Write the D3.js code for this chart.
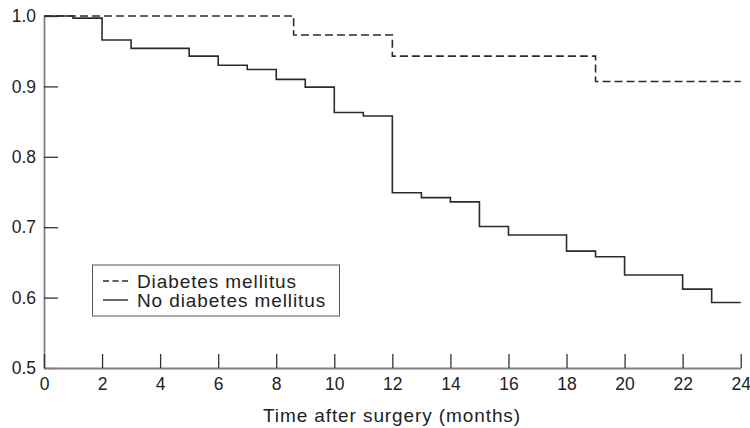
<!DOCTYPE html>
<html>
  <head>
    <title>Survival after surgery</title>
    <script src="https://cdn.jsdelivr.net/npm/d3@7/dist/d3.min.js"></script>
    <style>
      body { margin: 0; background: #fff; }
      text { font-family: "Liberation Sans", Arial, sans-serif; fill: #222; }
    </style>
  </head>
  <body>
    <svg width="750" height="428"></svg>
    <script>

      // step points (month where the step starts, survival after it)
      const noDmMonths = [0, 1, 2, 3, 5, 6, 7, 8, 9, 10, 11, 12, 13, 14, 15, 16, 18, 19, 20, 22, 23];
      const noDmSurvival = [1.0, 0.997, 0.966, 0.954, 0.943, 0.930, 0.924, 0.910, 0.899, 0.863, 0.858,
                            0.749, 0.742, 0.736, 0.701, 0.689, 0.666, 0.658, 0.632, 0.612, 0.593];

      const dmMonths = [0, 8.6, 12, 19];
      const dmSurvival = [1.0, 0.973, 0.943, 0.907];

      const followUpEnd = 24;
      const xTicks = d3.range(0, 25, 2);
      const yTicks = [0.5, 0.6, 0.7, 0.8, 0.9, 1.0];
      const seriesNames = ["Diabetes mellitus", "No diabetes mellitus"];

      const svg = d3.select("svg");

      const x = d3.scaleLinear().domain([0, 24]).range([44, 740.7]);
      const y = d3.scaleLinear().domain([0.5, 1.0]).range([368, 16]);

      const toSteps = (months, surv) => {
        const pts = months.map((m, i) => [m, surv[i]]);
        pts.push([followUpEnd, surv[surv.length - 1]]);
        return pts;
      };

      const line = d3.line()
        .x(d => x(d[0]))
        .y(d => y(d[1]))
        .curve(d3.curveStepAfter);

      // axes
      const yAxis = d3.axisLeft(y)
        .tickValues(yTicks)
        .tickFormat(d3.format(".1f"))
        .tickSizeInner(-14)
        .tickSizeOuter(0)
        .tickPadding(8);

      const xAxis = d3.axisBottom(x)
        .tickValues(xTicks)
        .tickSizeInner(-14)
        .tickSizeOuter(0)
        .tickPadding(10);

      const gy = svg.append("g").attr("transform", "translate(44,0)").call(yAxis);
      const gx = svg.append("g").attr("transform", "translate(0,368)").call(xAxis);

      [gx, gy].forEach(g => {
        g.select(".domain").attr("stroke", "#808080").attr("stroke-width", 1.8);
        g.selectAll(".tick line").attr("stroke", "#333").attr("stroke-width", 1.3);
        g.selectAll(".tick text")
          .attr("font-size", 17.5)
          .attr("font-family", "Liberation Sans, Arial, sans-serif")
          .attr("fill", "#222");
      });

      svg.append("text")
        .attr("x", 392)
        .attr("y", 421.5)
        .attr("text-anchor", "middle")
        .attr("font-size", 19)
        .attr("letter-spacing", 0.9)
        .text("Time after surgery (months)");

      // survival curves
      svg.append("path")
        .attr("d", line(toSteps(dmMonths, dmSurvival)))
        .attr("fill", "none")
        .attr("stroke", "#2b2b2b")
        .attr("stroke-width", 1.6)
        .attr("stroke-dasharray", "8,4");

      svg.append("path")
        .attr("d", line(toSteps(noDmMonths, noDmSurvival)))
        .attr("fill", "none")
        .attr("stroke", "#2b2b2b")
        .attr("stroke-width", 1.6);

      // legend
      const legend = svg.append("g");
      legend.append("rect")
        .attr("x", 92.5).attr("y", 265)
        .attr("width", 247).attr("height", 51)
        .attr("fill", "#fff")
        .attr("stroke", "#555")
        .attr("stroke-width", 1);

      seriesNames.forEach((name, i) => {
        const cy = 281 + i * 19;
        legend.append("line")
          .attr("x1", 103).attr("x2", 128)
          .attr("y1", cy).attr("y2", cy)
          .attr("stroke", "#2b2b2b")
          .attr("stroke-width", 1.4)
          .attr("stroke-dasharray", i === 0 ? "6,3.5" : null);
        legend.append("text")
          .attr("x", 137)
          .attr("y", cy + 6.5)
          .attr("font-size", 19)
          .attr("letter-spacing", 0.9)
          .text(name);
      });

    </script>
  </body>
</html>
